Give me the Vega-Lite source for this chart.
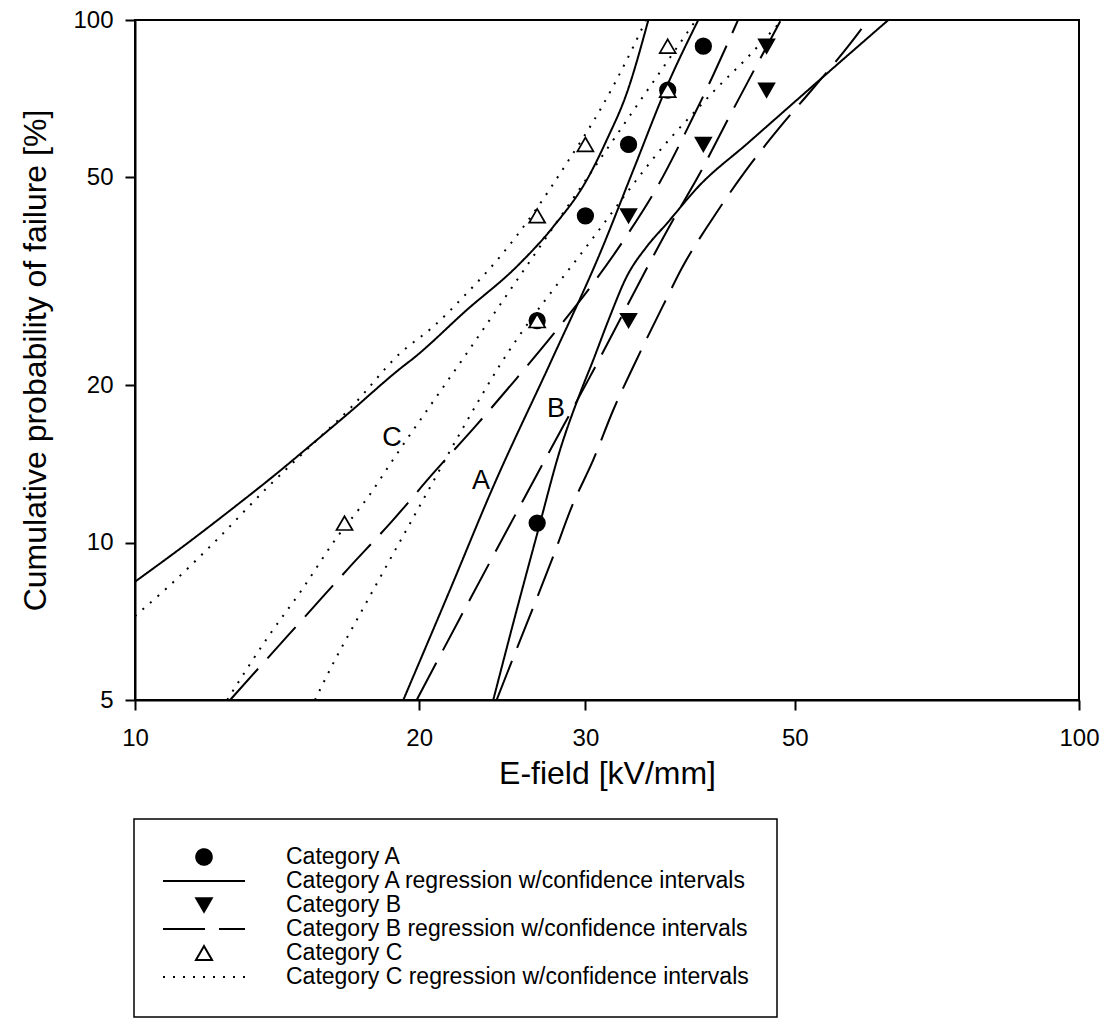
{
  "$schema": "https://vega.github.io/schema/vega-lite/v6.json",
  "width": 944,
  "height": 680,
  "autosize": {"type": "none"},
  "padding": {"left": 135, "top": 20, "right": 28, "bottom": 332},
  "background": "white",
  "config": {
    "font": "Liberation Sans",
    "view": {"stroke": "black", "strokeWidth": 2},
    "axis": {
      "domainColor": "black", "domainWidth": 2, "tickColor": "black", "tickWidth": 2, "tickSize": 10,
      "labelColor": "black", "labelFont": "Liberation Sans", "labelFontSize": 24,
      "titleColor": "black", "titleFont": "Liberation Sans", "titleFontSize": 32, "titleFontWeight": "normal",
      "grid": false, "labelFlush": false, "labelOverlap": false
    },
    "legend": {
      "orient": "none", "legendX": -1, "legendY": 799,
      "strokeColor": "black", "strokeWidth": 1.5, "padding": 28,
      "symbolSize": 6724, "symbolStrokeWidth": 2, "symbolStrokeColor": "black", "symbolFillColor": "transparent",
      "clipHeight": 20, "rowPadding": 1.0, "symbolOffset": 0,
      "labelFont": "Liberation Sans", "labelFontSize": 23, "labelColor": "black", "labelLimit": 0, "labelOffset": 40
    }
  },
  "datasets": {
    "pts": [
      {"s": "Category A", "x": 26.67, "y": 10.9},
      {"s": "Category A", "x": 26.67, "y": 26.6},
      {"s": "Category A", "x": 30.0, "y": 42.2},
      {"s": "Category A", "x": 33.33, "y": 57.8},
      {"s": "Category A", "x": 36.67, "y": 73.4},
      {"s": "Category A", "x": 40.0, "y": 89.1},
      {"s": "Category B", "x": 33.33, "y": 26.6},
      {"s": "Category B", "x": 33.33, "y": 42.2},
      {"s": "Category B", "x": 40.0, "y": 57.8},
      {"s": "Category B", "x": 46.67, "y": 73.4},
      {"s": "Category B", "x": 46.67, "y": 89.1},
      {"s": "Category C", "x": 16.67, "y": 10.9},
      {"s": "Category C", "x": 26.67, "y": 26.6},
      {"s": "Category C", "x": 26.67, "y": 42.2},
      {"s": "Category C", "x": 30.0, "y": 57.8},
      {"s": "Category C", "x": 36.67, "y": 73.4},
      {"s": "Category C", "x": 36.67, "y": 89.1}
    ],
    "curves": [
      {"s": "Category A regression w/confidence intervals", "c": "A_upper", "x": 10.0, "y": 8.42},
      {"s": "Category A regression w/confidence intervals", "c": "A_upper", "x": 11.3, "y": 9.9},
      {"s": "Category A regression w/confidence intervals", "c": "A_upper", "x": 12.76, "y": 11.72},
      {"s": "Category A regression w/confidence intervals", "c": "A_upper", "x": 14.07, "y": 13.48},
      {"s": "Category A regression w/confidence intervals", "c": "A_upper", "x": 15.51, "y": 15.61},
      {"s": "Category A regression w/confidence intervals", "c": "A_upper", "x": 16.83, "y": 17.68},
      {"s": "Category A regression w/confidence intervals", "c": "A_upper", "x": 19.17, "y": 21.65},
      {"s": "Category A regression w/confidence intervals", "c": "A_upper", "x": 19.72, "y": 22.53},
      {"s": "Category A regression w/confidence intervals", "c": "A_upper", "x": 22.46, "y": 27.87},
      {"s": "Category A regression w/confidence intervals", "c": "A_upper", "x": 25.37, "y": 33.74},
      {"s": "Category A regression w/confidence intervals", "c": "A_upper", "x": 27.74, "y": 40.23},
      {"s": "Category A regression w/confidence intervals", "c": "A_upper", "x": 30.1, "y": 49.42},
      {"s": "Category A regression w/confidence intervals", "c": "A_upper", "x": 31.6, "y": 58.94},
      {"s": "Category A regression w/confidence intervals", "c": "A_upper", "x": 33.18, "y": 72.4},
      {"s": "Category A regression w/confidence intervals", "c": "A_upper", "x": 34.98, "y": 100},
      {"s": "Category A regression w/confidence intervals", "c": "A_fit", "x": 19.24, "y": 5},
      {"s": "Category A regression w/confidence intervals", "c": "A_fit", "x": 21.56, "y": 8.12},
      {"s": "Category A regression w/confidence intervals", "c": "A_fit", "x": 23.96, "y": 12.8},
      {"s": "Category A regression w/confidence intervals", "c": "A_fit", "x": 27.63, "y": 22.36},
      {"s": "Category A regression w/confidence intervals", "c": "A_fit", "x": 31.09, "y": 35.78},
      {"s": "Category A regression w/confidence intervals", "c": "A_fit", "x": 33.72, "y": 51.64},
      {"s": "Category A regression w/confidence intervals", "c": "A_fit", "x": 36.58, "y": 74.54},
      {"s": "Category A regression w/confidence intervals", "c": "A_fit", "x": 39.51, "y": 100},
      {"s": "Category A regression w/confidence intervals", "c": "A_lower", "x": 23.96, "y": 5},
      {"s": "Category A regression w/confidence intervals", "c": "A_lower", "x": 25.37, "y": 7.43},
      {"s": "Category A regression w/confidence intervals", "c": "A_lower", "x": 26.74, "y": 10.58},
      {"s": "Category A regression w/confidence intervals", "c": "A_lower", "x": 28.2, "y": 15.04},
      {"s": "Category A regression w/confidence intervals", "c": "A_lower", "x": 29.61, "y": 19.31},
      {"s": "Category A regression w/confidence intervals", "c": "A_lower", "x": 30.58, "y": 22.36},
      {"s": "Category A regression w/confidence intervals", "c": "A_lower", "x": 31.74, "y": 26.67},
      {"s": "Category A regression w/confidence intervals", "c": "A_lower", "x": 33.18, "y": 32.28},
      {"s": "Category A regression w/confidence intervals", "c": "A_lower", "x": 34.84, "y": 36.84},
      {"s": "Category A regression w/confidence intervals", "c": "A_lower", "x": 36.61, "y": 40.84},
      {"s": "Category A regression w/confidence intervals", "c": "A_lower", "x": 39.51, "y": 47.98},
      {"s": "Category A regression w/confidence intervals", "c": "A_lower", "x": 44.64, "y": 58.25},
      {"s": "Category A regression w/confidence intervals", "c": "A_lower", "x": 50.43, "y": 70.71},
      {"s": "Category A regression w/confidence intervals", "c": "A_lower", "x": 54.71, "y": 80.47},
      {"s": "Category A regression w/confidence intervals", "c": "A_lower", "x": 62.81, "y": 100},
      {"s": "Category B regression w/confidence intervals", "c": "B_upper", "x": 12.61, "y": 5},
      {"s": "Category B regression w/confidence intervals", "c": "B_upper", "x": 13.62, "y": 5.84},
      {"s": "Category B regression w/confidence intervals", "c": "B_upper", "x": 15.14, "y": 7.22},
      {"s": "Category B regression w/confidence intervals", "c": "B_upper", "x": 16.83, "y": 8.93},
      {"s": "Category B regression w/confidence intervals", "c": "B_upper", "x": 18.7, "y": 10.97},
      {"s": "Category B regression w/confidence intervals", "c": "B_upper", "x": 20.7, "y": 13.58},
      {"s": "Category B regression w/confidence intervals", "c": "B_upper", "x": 23.01, "y": 16.8},
      {"s": "Category B regression w/confidence intervals", "c": "B_upper", "x": 25.37, "y": 20.63},
      {"s": "Category B regression w/confidence intervals", "c": "B_upper", "x": 27.97, "y": 25.52},
      {"s": "Category B regression w/confidence intervals", "c": "B_upper", "x": 30.58, "y": 31.35},
      {"s": "Category B regression w/confidence intervals", "c": "B_upper", "x": 33.31, "y": 39.08},
      {"s": "Category B regression w/confidence intervals", "c": "B_upper", "x": 35.84, "y": 48.34},
      {"s": "Category B regression w/confidence intervals", "c": "B_upper", "x": 38.72, "y": 63.44},
      {"s": "Category B regression w/confidence intervals", "c": "B_upper", "x": 40.98, "y": 78.49},
      {"s": "Category B regression w/confidence intervals", "c": "B_upper", "x": 43.53, "y": 100},
      {"s": "Category B regression w/confidence intervals", "c": "B_fit", "x": 19.88, "y": 5},
      {"s": "Category B regression w/confidence intervals", "c": "B_fit", "x": 22.09, "y": 7.17},
      {"s": "Category B regression w/confidence intervals", "c": "B_fit", "x": 25.06, "y": 10.97},
      {"s": "Category B regression w/confidence intervals", "c": "B_fit", "x": 27.18, "y": 14.4},
      {"s": "Category B regression w/confidence intervals", "c": "B_fit", "x": 30.34, "y": 20.78},
      {"s": "Category B regression w/confidence intervals", "c": "B_fit", "x": 37.15, "y": 41.44},
      {"s": "Category B regression w/confidence intervals", "c": "B_fit", "x": 39.68, "y": 50.96},
      {"s": "Category B regression w/confidence intervals", "c": "B_fit", "x": 42.17, "y": 62.97},
      {"s": "Category B regression w/confidence intervals", "c": "B_fit", "x": 48.34, "y": 100},
      {"s": "Category B regression w/confidence intervals", "c": "B_lower", "x": 24.16, "y": 5},
      {"s": "Category B regression w/confidence intervals", "c": "B_lower", "x": 25.27, "y": 6.15},
      {"s": "Category B regression w/confidence intervals", "c": "B_lower", "x": 26.53, "y": 7.67},
      {"s": "Category B regression w/confidence intervals", "c": "B_lower", "x": 27.72, "y": 9.39},
      {"s": "Category B regression w/confidence intervals", "c": "B_lower", "x": 29.02, "y": 11.72},
      {"s": "Category B regression w/confidence intervals", "c": "B_lower", "x": 30.58, "y": 14.4},
      {"s": "Category B regression w/confidence intervals", "c": "B_lower", "x": 32.11, "y": 17.94},
      {"s": "Category B regression w/confidence intervals", "c": "B_lower", "x": 33.86, "y": 22.07},
      {"s": "Category B regression w/confidence intervals", "c": "B_lower", "x": 36.43, "y": 28.91},
      {"s": "Category B regression w/confidence intervals", "c": "B_lower", "x": 37.95, "y": 33.5},
      {"s": "Category B regression w/confidence intervals", "c": "B_lower", "x": 40.82, "y": 41.44},
      {"s": "Category B regression w/confidence intervals", "c": "B_lower", "x": 44.28, "y": 51.26},
      {"s": "Category B regression w/confidence intervals", "c": "B_lower", "x": 48.43, "y": 62.97},
      {"s": "Category B regression w/confidence intervals", "c": "B_lower", "x": 52.1, "y": 73.46},
      {"s": "Category B regression w/confidence intervals", "c": "B_lower", "x": 57.45, "y": 90.88},
      {"s": "Category B regression w/confidence intervals", "c": "B_lower", "x": 59.78, "y": 100},
      {"s": "Category C regression w/confidence intervals", "c": "C_upper", "x": 10.0, "y": 7.24},
      {"s": "Category C regression w/confidence intervals", "c": "C_upper", "x": 10.85, "y": 8.24},
      {"s": "Category C regression w/confidence intervals", "c": "C_upper", "x": 12.15, "y": 10.04},
      {"s": "Category C regression w/confidence intervals", "c": "C_upper", "x": 13.84, "y": 12.8},
      {"s": "Category C regression w/confidence intervals", "c": "C_upper", "x": 15.26, "y": 15.16},
      {"s": "Category C regression w/confidence intervals", "c": "C_upper", "x": 16.97, "y": 18.21},
      {"s": "Category C regression w/confidence intervals", "c": "C_upper", "x": 19.09, "y": 23.03},
      {"s": "Category C regression w/confidence intervals", "c": "C_upper", "x": 20.7, "y": 25.9},
      {"s": "Category C regression w/confidence intervals", "c": "C_upper", "x": 22.46, "y": 30.0},
      {"s": "Category C regression w/confidence intervals", "c": "C_upper", "x": 24.36, "y": 35.25},
      {"s": "Category C regression w/confidence intervals", "c": "C_upper", "x": 26.42, "y": 42.68},
      {"s": "Category C regression w/confidence intervals", "c": "C_upper", "x": 28.66, "y": 53.19},
      {"s": "Category C regression w/confidence intervals", "c": "C_upper", "x": 31.09, "y": 67.27},
      {"s": "Category C regression w/confidence intervals", "c": "C_upper", "x": 33.72, "y": 88.91},
      {"s": "Category C regression w/confidence intervals", "c": "C_upper", "x": 34.78, "y": 100},
      {"s": "Category C regression w/confidence intervals", "c": "C_fit", "x": 12.52, "y": 5},
      {"s": "Category C regression w/confidence intervals", "c": "C_fit", "x": 13.84, "y": 6.61},
      {"s": "Category C regression w/confidence intervals", "c": "C_fit", "x": 15.02, "y": 8.12},
      {"s": "Category C regression w/confidence intervals", "c": "C_fit", "x": 16.29, "y": 10.12},
      {"s": "Category C regression w/confidence intervals", "c": "C_fit", "x": 17.67, "y": 12.25},
      {"s": "Category C regression w/confidence intervals", "c": "C_fit", "x": 18.86, "y": 14.61},
      {"s": "Category C regression w/confidence intervals", "c": "C_fit", "x": 22.46, "y": 23.03},
      {"s": "Category C regression w/confidence intervals", "c": "C_fit", "x": 26.04, "y": 33.99},
      {"s": "Category C regression w/confidence intervals", "c": "C_fit", "x": 30.79, "y": 52.79},
      {"s": "Category C regression w/confidence intervals", "c": "C_fit", "x": 35.21, "y": 75.1},
      {"s": "Category C regression w/confidence intervals", "c": "C_fit", "x": 39.29, "y": 100},
      {"s": "Category C regression w/confidence intervals", "c": "C_lower", "x": 15.51, "y": 5},
      {"s": "Category C regression w/confidence intervals", "c": "C_lower", "x": 16.29, "y": 5.97},
      {"s": "Category C regression w/confidence intervals", "c": "C_lower", "x": 17.1, "y": 7.01},
      {"s": "Category C regression w/confidence intervals", "c": "C_lower", "x": 17.96, "y": 8.24},
      {"s": "Category C regression w/confidence intervals", "c": "C_lower", "x": 19.17, "y": 10.2},
      {"s": "Category C regression w/confidence intervals", "c": "C_lower", "x": 20.37, "y": 12.43},
      {"s": "Category C regression w/confidence intervals", "c": "C_lower", "x": 22.09, "y": 16.19},
      {"s": "Category C regression w/confidence intervals", "c": "C_lower", "x": 24.36, "y": 21.88},
      {"s": "Category C regression w/confidence intervals", "c": "C_lower", "x": 30.34, "y": 37.61},
      {"s": "Category C regression w/confidence intervals", "c": "C_lower", "x": 37.03, "y": 59.81},
      {"s": "Category C regression w/confidence intervals", "c": "C_lower", "x": 39.03, "y": 66.3},
      {"s": "Category C regression w/confidence intervals", "c": "C_lower", "x": 41.15, "y": 73.46},
      {"s": "Category C regression w/confidence intervals", "c": "C_lower", "x": 44.46, "y": 84.47},
      {"s": "Category C regression w/confidence intervals", "c": "C_lower", "x": 47.06, "y": 94.31},
      {"s": "Category C regression w/confidence intervals", "c": "C_lower", "x": 48.46, "y": 100}
    ],
    "labels": [
      {"t": "C", "x": 18.72, "y": 15.86},
      {"t": "A", "x": 23.26, "y": 13.12},
      {"t": "B", "x": 27.92, "y": 18.02}
    ]
  },
  "layer": [
    {
      "data": {"name": "curves"},
      "mark": {"type": "line", "clip": true, "color": "black", "strokeWidth": 2, "strokeCap": "butt", "interpolate": "monotone"},
      "encoding": {
        "x": {"field": "x", "type": "quantitative", "scale": {"type": "log", "domain": [10, 100], "nice": false},
              "axis": {"values": [10, 20, 30, 50, 100], "format": "d", "title": "E-field [kV/mm]", "labelPadding": 16, "titlePadding": 8}},
        "y": {"field": "y", "type": "quantitative", "scale": {"type": "log", "domain": [5, 100], "nice": false},
              "axis": {"values": [5, 10, 20, 50, 100], "format": "d", "title": "Cumulative probability of failure [%]", "labelPadding": 12, "titlePadding": 20}},
        "detail": {"field": "c"},
        "strokeDash": {"field": "s", "type": "nominal",
          "scale": {"domain": ["Category A", "Category A regression w/confidence intervals", "Category B", "Category B regression w/confidence intervals", "Category C", "Category C regression w/confidence intervals"],
                    "range": [[1, 0], [1, 0], [1, 0], [42, 14], [1, 0], [2, 8]]},
          "legend": {"title": null}}
      }
    },
    {
      "data": {"name": "pts"},
      "mark": {"type": "point", "filled": true, "opacity": 1, "stroke": "black", "strokeWidth": 1.7, "size": 6724},
      "encoding": {
        "x": {"field": "x", "type": "quantitative"},
        "y": {"field": "y", "type": "quantitative"},
        "shape": {"field": "s", "type": "nominal",
          "scale": {"domain": ["Category A", "Category A regression w/confidence intervals", "Category B", "Category B regression w/confidence intervals", "Category C", "Category C regression w/confidence intervals"],
                    "range": ["M-0.19,0A0.19,0.19,0,1,1,0.19,0A0.19,0.19,0,1,1,-0.19,0Z", "M-1,0L1,0", "M-0.19,-0.165L0.19,-0.165L0,0.165Z", "M-1,0L1,0", "M0,-0.168L0.195,0.168L-0.195,0.168Z", "M-1,0L1,0"]},
          "legend": {"title": null}},
        "fill": {"field": "s", "type": "nominal",
          "scale": {"domain": ["Category A", "Category A regression w/confidence intervals", "Category B", "Category B regression w/confidence intervals", "Category C", "Category C regression w/confidence intervals"],
                    "range": ["black", "transparent", "black", "transparent", "white", "transparent"]},
          "legend": {"title": null}}
      }
    },
    {
      "data": {"name": "labels"},
      "mark": {"type": "text", "fontSize": 27, "font": "Liberation Sans", "color": "black"},
      "encoding": {
        "x": {"field": "x", "type": "quantitative"},
        "y": {"field": "y", "type": "quantitative"},
        "text": {"field": "t"}
      }
    }
  ]
}
